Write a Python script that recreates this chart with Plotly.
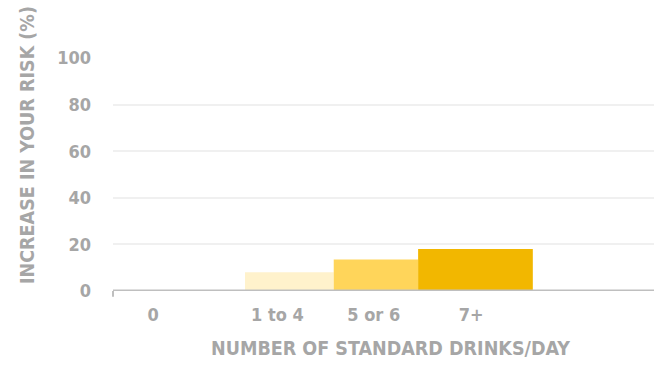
import plotly.graph_objects as go

# Data
categories = ["0", "1 to 4", "5 or 6", "7+"]
risk_increase = [0, 8, 13.5, 18]
bar_colors = ["#fff2cc", "#fff2cc", "#ffd55a", "#f2b700"]
y_ticks = [0, 20, 40, 60, 80, 100]

# Horizontal layout on a 0..5 axis (one unit ~ one category slot)
label_pos = [0.37, 1.52, 2.41, 3.31]
bar_left = [0.0, 1.22, 2.04, 2.82]
bar_right = [0.0, 2.04, 2.82, 3.88]
bar_mid = [(a + b) / 2 for a, b in zip(bar_left, bar_right)]
bar_width = [b - a for a, b in zip(bar_left, bar_right)]

FONT = "DejaVu Sans Condensed, Arial Narrow, sans-serif"
GREY = "#a6a6a6"
tick_font = dict(family=FONT, size=18, color=GREY, weight="bold")
title_font = dict(family=FONT, size=19.5, color=GREY, weight="bold")

fig = go.Figure(
    go.Bar(
        x=bar_mid,
        y=risk_increase,
        width=bar_width,
        marker=dict(color=bar_colors, line=dict(width=0)),
        hovertext=categories,
    )
)

fig.update_layout(
    width=654,
    height=371,
    margin=dict(l=113, r=0, t=58, b=80),
    paper_bgcolor="white",
    plot_bgcolor="white",
    showlegend=False,
    font=dict(family=FONT, size=18, color=GREY),
    xaxis=dict(
        range=[0, 5.0],
        tickvals=label_pos,
        ticktext=categories,
        showgrid=False,
        zeroline=False,
        showline=False,
        ticks="",
        ticklabelstandoff=11,
        tickfont=tick_font,
        fixedrange=True,
    ),
    yaxis=dict(
        range=[0, 100],
        tickvals=y_ticks,
        showgrid=True,
        gridcolor="#f0f0f0",
        gridwidth=2,
        zeroline=False,
        showline=False,
        ticks="",
        ticklabelstandoff=21,
        tickfont=tick_font,
        fixedrange=True,
    ),
    annotations=[
        dict(text="NUMBER OF STANDARD DRINKS/DAY", xref="paper", yref="paper",
             x=(390 - 113) / 541, y=-(348 - 291) / 233, xanchor="center", yanchor="middle",
             showarrow=False, font=title_font),
        dict(text="INCREASE IN YOUR RISK (%)", xref="paper", yref="paper",
             x=-(113 - 27) / 541, y=(291 - 145) / 233, xanchor="center", yanchor="middle",
             textangle=-90, showarrow=False, font=title_font),
    ],
    shapes=[
        # baseline
        dict(type="line", xref="paper", yref="y", x0=0, x1=1, y0=0, y1=0,
             line=dict(color="#bfbfbf", width=3)),
        # small tick at the left end of the baseline
        dict(type="line", xref="paper", yref="paper", x0=0, x1=0, y0=0, y1=-0.025,
             line=dict(color="#bfbfbf", width=2)),
    ],
)

fig.write_html("out.html")
